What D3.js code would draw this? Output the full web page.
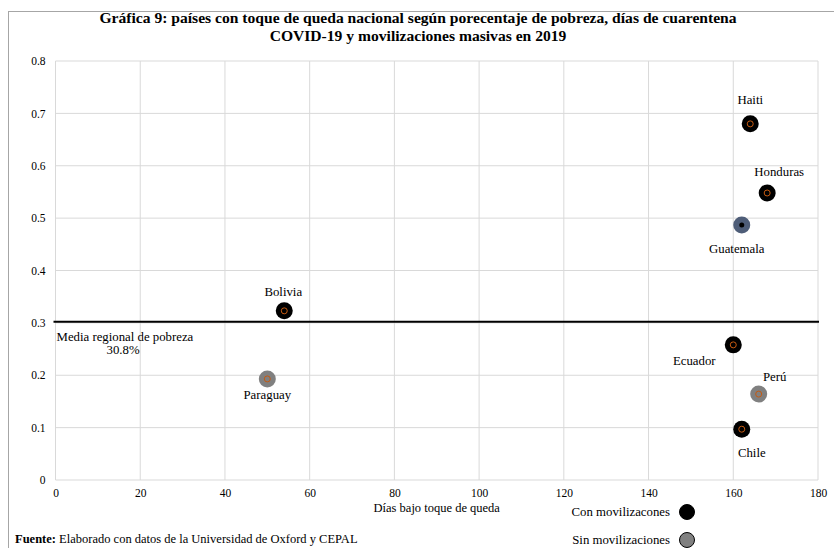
<!DOCTYPE html>
<html>
<head>
<meta charset="utf-8">
<script src="https://cdn.jsdelivr.net/npm/d3@7"></script>
<style>
  body { margin: 0; background: #fff; }
  svg text { font-family: "Liberation Serif", "Times New Roman", serif; }
</style>
</head>
<body>
<div id="chart"></div>
<script>
// data
var countries = ["Haiti", "Honduras", "Guatemala", "Bolivia", "Ecuador", "Perú", "Chile", "Paraguay"];
var days      = [164, 168, 162, 54, 160, 166, 162, 50];
var poverty   = [0.68, 0.548, 0.487, 0.323, 0.258, 0.164, 0.097, 0.193];
var groups    = ["con", "con", "guate", "con", "con", "sin", "con", "sin"];
// label offsets (dx, dy) relative to the point
var labelPos  = [[0, -20], [12, -17], [-5, 28], [-1, -15], [-39, 20], [16, -13], [10, 28], [0, 20]];
var meanPoverty = 0.302;
var xTicks = [0, 20, 40, 60, 80, 100, 120, 140, 160, 180];
var yTicks = [0, 0.1, 0.2, 0.3, 0.4, 0.5, 0.6, 0.7, 0.8];
var legendLabels = ["Con movilizacones", "Sin movilizaciones"];

var W = 834, H = 548;
var margin = { top: 61, right: 16, bottom: 68, left: 55.5 };
var width = W - margin.left - margin.right;
var height = H - margin.top - margin.bottom;

var svg = d3.select("#chart").append("svg")
  .attr("width", W)
  .attr("height", H);

// outer frame
svg.append("rect")
  .attr("x", 8.5).attr("y", 11.5)
  .attr("width", W).attr("height", H)
  .attr("fill", "none").attr("stroke", "#a6a6a6").attr("stroke-width", 1);

svg.append("text")
  .attr("x", 418).attr("y", 23)
  .attr("text-anchor", "middle")
  .attr("font-size", "15.6px").attr("font-weight", "bold")
  .text("Gráfica 9: países con toque de queda nacional según porecentaje de pobreza, días de cuarentena");
svg.append("text")
  .attr("x", 418).attr("y", 41)
  .attr("text-anchor", "middle")
  .attr("font-size", "15.6px").attr("font-weight", "bold")
  .text("COVID-19 y movilizaciones masivas en 2019");

var g = svg.append("g")
  .attr("transform", "translate(" + margin.left + "," + margin.top + ")");

var x = d3.scaleLinear().domain([0, 180]).range([0, width]);
var y = d3.scaleLinear().domain([0, 0.8]).range([height, 0]);

// grid
g.selectAll(".vgrid").data(xTicks).enter().append("line")
  .attr("x1", d => x(d)).attr("x2", d => x(d))
  .attr("y1", 0).attr("y2", height)
  .attr("stroke", "#d9d9d9").attr("stroke-width", 1);
g.selectAll(".hgrid").data(yTicks).enter().append("line")
  .attr("x1", 0).attr("x2", width)
  .attr("y1", d => y(d)).attr("y2", d => y(d))
  .attr("stroke", "#d9d9d9").attr("stroke-width", 1);

// axes (labels only)
var xAxis = g.append("g")
  .attr("transform", "translate(0," + height + ")")
  .call(d3.axisBottom(x).tickValues(xTicks).tickSize(0).tickPadding(9).tickFormat(d3.format("d")));
var yAxis = g.append("g")
  .call(d3.axisLeft(y).tickValues(yTicks).tickSize(0).tickPadding(10).tickFormat(d => d === 0 ? "0" : d3.format(".1f")(d)));
[xAxis, yAxis].forEach(function (a) {
  a.select(".domain").remove();
  a.attr("font-family", null);
  a.selectAll("text").attr("font-size", "11.5px").attr("fill", "#000");
});

g.append("text")
  .attr("x", x(90)).attr("y", height + 32)
  .attr("text-anchor", "middle").attr("font-size", "12.5px")
  .text("Días bajo toque de queda");

// mean line
g.append("line")
  .attr("x1", -2).attr("x2", width + 1)
  .attr("y1", y(meanPoverty)).attr("y2", y(meanPoverty))
  .attr("stroke", "#000").attr("stroke-width", 2);
g.append("text")
  .attr("x", 1).attr("y", y(meanPoverty) + 19)
  .attr("font-size", "12.8px")
  .text("Media regional de pobreza");
g.append("text")
  .attr("x", 51).attr("y", y(meanPoverty) + 32)
  .attr("font-size", "12.8px")
  .text("30.8%");

var fills = { con: "#000000", sin: "#808080", guate: "#4e5d78" };

var pts = g.selectAll(".pt").data(countries).enter().append("g")
  .attr("transform", (d, i) => "translate(" + x(days[i]) + "," + y(poverty[i]) + ")");
pts.append("circle")
  .attr("r", 8.5)
  .attr("fill", (d, i) => fills[groups[i]]);
pts.append("circle")
  .attr("r", (d, i) => groups[i] === "guate" ? 2.5 : 3)
  .attr("fill", (d, i) => groups[i] === "guate" ? "#000" : "none")
  .attr("stroke", (d, i) => groups[i] === "guate" ? "none" : "#c55a11")
  .attr("stroke-width", 1);
pts.append("text")
  .attr("x", (d, i) => labelPos[i][0])
  .attr("y", (d, i) => labelPos[i][1])
  .attr("text-anchor", "middle")
  .attr("font-size", "12.8px")
  .text(d => d);

// legend
var legend = svg.append("g");
legendLabels.forEach(function (lab, i) {
  var ly = 512 + i * 28;
  legend.append("text")
    .attr("x", 670).attr("y", ly + 4)
    .attr("text-anchor", "end").attr("font-size", "12.8px")
    .text(lab);
  legend.append("circle")
    .attr("cx", 687).attr("cy", ly).attr("r", 7.5)
    .attr("fill", i === 0 ? "#000" : "#808080")
    .attr("stroke", "#000").attr("stroke-width", 1);
});

svg.append("text")
  .attr("x", 15).attr("y", 543)
  .attr("font-size", "12.5px")
  .html("<tspan font-weight='bold'>Fuente:</tspan> Elaborado con datos de la Universidad de Oxford y CEPAL");
</script>
</body>
</html>
